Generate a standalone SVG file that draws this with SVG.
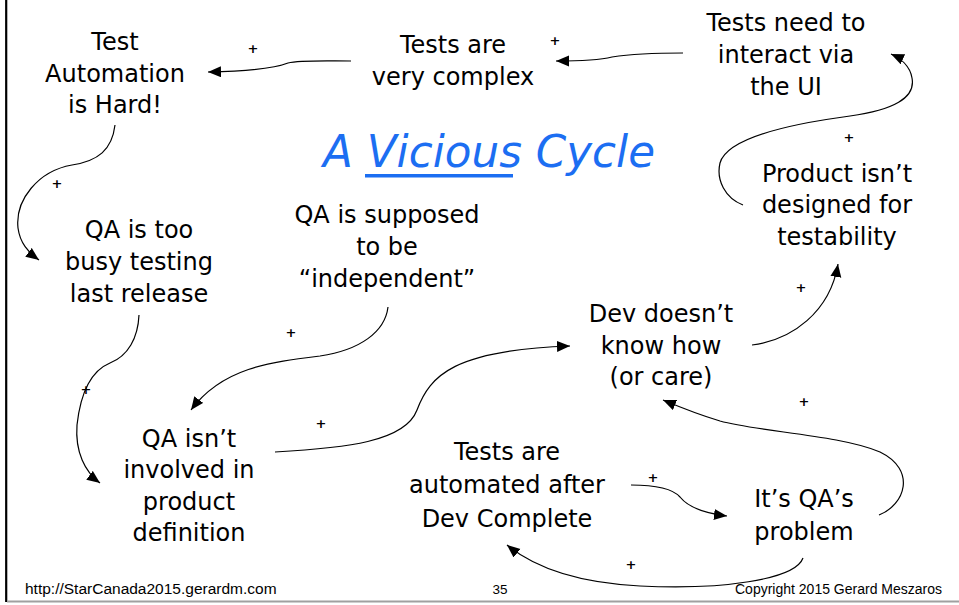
<svg xmlns="http://www.w3.org/2000/svg" width="959" height="605" viewBox="0 0 959 605">
<defs>
<style>
.n{font-family:"DejaVu Sans","Noto Sans",sans-serif;font-size:24px;fill:#000;text-anchor:middle}
.p{font-family:"DejaVu Sans",sans-serif;font-size:13px;font-weight:bold;fill:#000;text-anchor:middle}
.c{fill:none;stroke:#000;stroke-width:1.2;marker-end:url(#ah)}
.f{font-family:"Liberation Sans",Arial,sans-serif;fill:#000}
</style>
<marker id="ah" markerUnits="userSpaceOnUse" markerWidth="14" markerHeight="12" refX="13" refY="5.5" orient="auto" viewBox="0 0 14 12">
<path d="M0,0 L13,5.5 L0,11 z" fill="#000"/>
</marker>
</defs>
<rect width="959" height="605" fill="#fff"/>
<line x1="6.2" y1="0" x2="6.2" y2="602" stroke="#000" stroke-width="2.2"/>
<line x1="7" y1="601.5" x2="959" y2="601.5" stroke="#a0a0a0" stroke-width="2"/>

<g id="title">
<text x="323" y="167" font-family="DejaVu Sans,sans-serif" font-style="italic" font-size="45" fill="#1c6ef2" textLength="332" lengthAdjust="spacingAndGlyphs">A Vicious Cycle</text>
<rect x="365" y="174" width="148" height="3.5" fill="#1c6ef2"/>
</g>

<g id="connectors">
<path class="c" d="M351,61 C325,61 300,60 288,63 C278,67 255,71 208,72"/>
<path class="c" d="M683,53 C650,53 625,55 612,57 C600,60 580,61 556,61"/>
<path class="c" d="M743,205 C725,198 716,180 720,163 C727,138 790,124 850,116 C893,110 916,98 912,78 C910,66 900,58 891,54"/>
<path class="c" d="M752,345 C792,340 830,312 838,264"/>
<path class="c" d="M115,125 C112,150 98,161 72,165 C38,171 15,200 18,228 C20,243 28,252 39,260"/>
<path class="c" d="M139,315 C138,338 128,356 110,363 C88,372 80,398 77,425 C75,452 85,472 100,483"/>
<path class="c" d="M388,307 C385,332 360,350 320,356 C270,362 222,368 191,410"/>
<path class="c" d="M275,452 C345,448 405,442 417,410 C430,375 455,350 570,346"/>
<path class="c" d="M631,485 C655,485 672,488 680,497 C688,507 702,513 727,516"/>
<path class="c" d="M803,558 C795,580 720,590 640,586 C580,583 535,568 507,545"/>
<path class="c" d="M879,515 C905,505 917,470 880,452 C840,435 760,432 720,421 C700,415 682,408 663,400"/>
<text class="p" x="253" y="52.5">+</text>
<text class="p" x="555" y="44.5">+</text>
<text class="p" x="849" y="141.5">+</text>
<text class="p" x="801" y="291.5">+</text>
<text class="p" x="57" y="187.5">+</text>
<text class="p" x="86" y="393.5">+</text>
<text class="p" x="291" y="336.5">+</text>
<text class="p" x="321" y="427.5">+</text>
<text class="p" x="653" y="481.5">+</text>
<text class="p" x="631" y="568.5">+</text>
<text class="p" x="804" y="405.5">+</text>
</g>

<g id="n-test-automation">
<text class="n" x="115" y="50">Test</text>
<text class="n" x="115" y="82">Automation</text>
<text class="n" x="115" y="113">is Hard!</text>
</g>
<g id="n-tests-complex">
<text class="n" x="453" y="53">Tests are</text>
<text class="n" x="453" y="85">very complex</text>
</g>
<g id="n-tests-ui">
<text class="n" x="786" y="31">Tests need to</text>
<text class="n" x="786" y="63">interact via</text>
<text class="n" x="786" y="95">the UI</text>
</g>
<g id="n-product">
<text class="n" x="837" y="182">Product isn’t</text>
<text class="n" x="837" y="213">designed for</text>
<text class="n" x="837" y="245">testability</text>
</g>
<g id="n-qa-busy">
<text class="n" x="139" y="238">QA is too</text>
<text class="n" x="139" y="270">busy testing</text>
<text class="n" x="139" y="302">last release</text>
</g>
<g id="n-qa-independent">
<text class="n" x="387" y="223">QA is supposed</text>
<text class="n" x="387" y="255">to be</text>
<text class="n" x="387" y="287">“independent”</text>
</g>
<g id="n-dev-know">
<text class="n" x="661" y="322">Dev doesn’t</text>
<text class="n" x="661" y="354">know how</text>
<text class="n" x="661" y="385">(or care)</text>
</g>
<g id="n-qa-involved">
<text class="n" x="189" y="447">QA isn’t</text>
<text class="n" x="189" y="478">involved in</text>
<text class="n" x="189" y="510">product</text>
<text class="n" x="189" y="541">definition</text>
</g>
<g id="n-tests-automated">
<text class="n" x="507" y="460">Tests are</text>
<text class="n" x="507" y="493">automated after</text>
<text class="n" x="507" y="527">Dev Complete</text>
</g>
<g id="n-qa-problem">
<text class="n" x="804" y="507">It’s QA’s</text>
<text class="n" x="804" y="540">problem</text>
</g>

<g id="footer">
<text class="f" x="25" y="594" font-size="15.5">http://StarCanada2015.gerardm.com</text>
<text class="f" x="500" y="594" font-size="13.5" text-anchor="middle">35</text>
<text class="f" x="942" y="594" font-size="14" text-anchor="end">Copyright 2015 Gerard Meszaros</text>
</g>
</svg>
